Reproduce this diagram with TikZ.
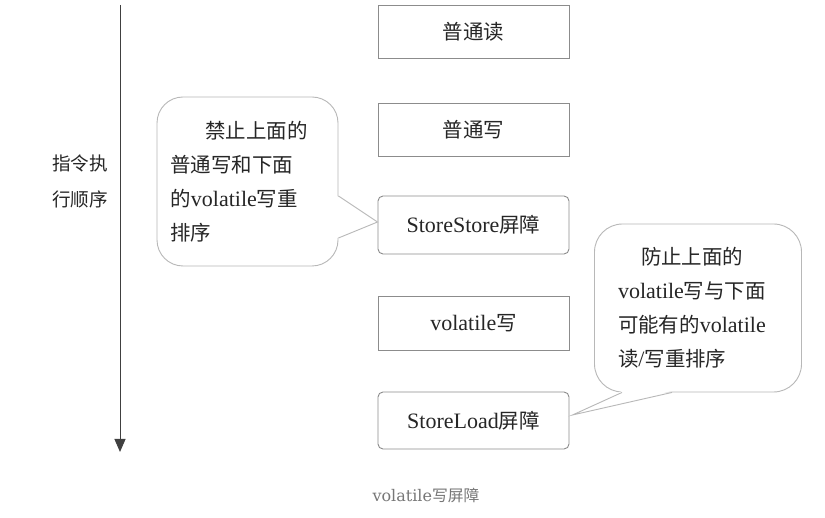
\documentclass[tikz,border=0pt]{standalone}
\usepackage{fontspec}
\setmainfont{Liberation Serif}
\newfontfamily\cjk{Noto Sans CJK SC}[Scale=0.93]
\newfontfamily\capfont{DejaVu Serif}
\newcommand\zh[1]{{\cjk #1}}
\usetikzlibrary{arrows.meta,calc}
\definecolor{boxgray}{HTML}{8C8C8C}
\definecolor{callgray}{HTML}{B8B8B8}
\definecolor{textc}{HTML}{262626}
\definecolor{capc}{HTML}{777777}
\tikzset{
  stepbox/.style={draw=boxgray, line width=0.9pt, minimum width=191pt, minimum height=53pt,
    inner sep=0pt, font=\fontsize{22}{26}\selectfont, text=textc},
  callout/.style={draw=callgray, line width=0.9pt, fill=white, inner sep=0pt,
    align=left, font=\fontsize{22}{34}\selectfont, text=textc},
  pointer/.style={draw=callgray, line width=0.9pt},
}
\begin{document}
\begin{tikzpicture}[x=1pt,y=-1pt]
\useasboundingbox[fill=white] (0,0) rectangle (825,518);

% time arrow
\coordinate (at) at (120,5);
\coordinate (ab) at (120,452);
\draw[color=black!75, line width=1pt, -{Triangle[width=11pt,length=13pt]}] (at) -- (ab);
\node[align=center, font=\fontsize{20}{36}\selectfont, text=textc] (lbl) at (80,181) {\zh{指令执}\\\zh{行顺序}};

% boxes
\node[stepbox] (r1) at (473.5,31.5) {\zh{普通读}};
\node[stepbox] (w1) at (473.5,129.5) {\zh{普通写}};
\node[stepbox, rounded corners=5pt, minimum height=58pt] (ss) at (473.5,225) {StoreStore\zh{屏障}};
\node[stepbox, minimum height=54pt] (vw) at (473.5,323) {volatile\zh{写}};
\node[stepbox, rounded corners=5pt, minimum height=57pt] (sl) at (473.5,420.5) {StoreLoad\zh{屏障}};

% callout 1
\node[callout, rounded corners=26pt, minimum width=181pt, minimum height=169pt, text width=154pt] (c1) at (247.5,181.5)
  {\hspace*{35pt}\zh{禁止上面的}\\\zh{普通写和下面}\\\zh{的}volatile\zh{写重}\\\zh{排序}};
\coordinate (t1) at ($(ss.west)+(0,-3)$);
\fill[white] ($(c1.east)+(-1.5,14.5)$) -- (t1) -- ($(c1.east)+(-1.5,56.5)$) -- cycle;
\draw[pointer] ($(c1.east)+(0,14.5)$) -- (t1) -- ($(c1.east)+(0,56.5)$);

% callout 2
\node[callout, rounded corners=28pt, minimum width=207pt, minimum height=168pt, text width=160pt] (c2) at (698,308)
  {\hspace*{23pt}\zh{防止上面的}\\volatile\zh{写与下面}\\\zh{可能有的}volatile\\\zh{读}/\zh{写重排序}};
\coordinate (t2) at ($(sl.east)+(3,-5.5)$);
\fill[white] ($(c2.south)+(-76,-1.5)$) -- (t2) -- ($(c2.south)+(-26,-1.5)$) -- cycle;
\draw[pointer] ($(c2.south)+(-76,0)$) -- (t2) -- ($(c2.south)+(-26,0)$);

% caption
\node[text=capc, inner sep=0pt] (cap) at (426,495)
  {\capfont\fontsize{16}{18}\selectfont volatile{\cjk\fontsize{17}{18}\selectfont 写屏障}};
\end{tikzpicture}
\end{document}
